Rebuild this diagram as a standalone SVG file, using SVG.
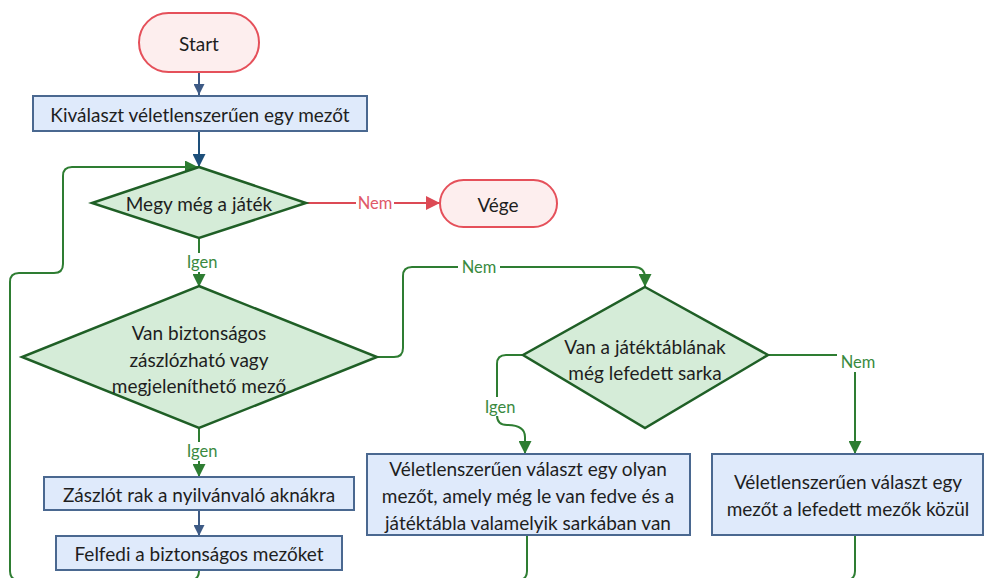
<svg xmlns="http://www.w3.org/2000/svg" width="987" height="578" viewBox="0 0 987 578">
  <defs>
    <marker id="ah-blue" viewBox="0 0 10 10" refX="10" refY="5" markerWidth="11" markerHeight="11" markerUnits="userSpaceOnUse" orient="auto">
      <path d="M0,0 L10,5 L0,10 Z" fill="#3d5a85"/>
    </marker>
    <marker id="ah-navy" viewBox="0 0 10 10" refX="10" refY="5" markerWidth="13" markerHeight="13" markerUnits="userSpaceOnUse" orient="auto">
      <path d="M0,0 L10,5 L0,10 Z" fill="#1d4f7a"/>
    </marker>
    <marker id="ah-green" viewBox="0 0 10 10" refX="10" refY="5" markerWidth="13" markerHeight="13" markerUnits="userSpaceOnUse" orient="auto">
      <path d="M0,0 L10,5 L0,10 Z" fill="#2e7d32"/>
    </marker>
    <marker id="ah-red" viewBox="0 0 10 10" refX="10" refY="5" markerWidth="14" markerHeight="14" markerUnits="userSpaceOnUse" orient="auto">
      <path d="M0,0 L10,5 L0,10 Z" fill="#dc4a55"/>
    </marker>
  </defs>
  <style>
    text { font-family: Lato, "Open Sans", "Liberation Sans", sans-serif; fill: #1e1e1e; }
    .node-txt { font-size: 19px; text-anchor: middle; dominant-baseline: central; }
    .term { fill: #fdeeee; stroke: #e5505a; stroke-width: 2; }
    .proc { fill: #dfeafb; stroke: #4a6890; stroke-width: 2; }
    .dec { fill: #d5ecd8; stroke: #1f5f26; stroke-width: 2.5; }
    .c-green { fill: none; stroke: #2e7d32; stroke-width: 2; }
    .c-blue { fill: none; stroke: #3d5a85; stroke-width: 2; }
    .c-navy { fill: none; stroke: #1d4f7a; stroke-width: 2; }
    .c-red { fill: none; stroke: #dc4a55; stroke-width: 2; }
    .lbl { font-size: 16.5px; text-anchor: middle; dominant-baseline: central; }
    .lbl-g { fill: #3a8a3f; }
    .lbl-r { fill: #e05868; }
    .lbl-bg { fill: #ffffff; }
  </style>

  <!-- connectors -->
  <g id="connectors">
    <path class="c-blue" d="M199,72 L199,95" marker-end="url(#ah-blue)"/>
    <path class="c-navy" d="M199,131 L199,167" marker-end="url(#ah-navy)"/>
    <!-- loop back along the bottom to the game check -->
    <path class="c-green" d="M855,535 L855,571 Q855,580 846,580 L19,580 Q10,580 10,571 L10,282 Q10,273 19,273 L54,273 Q63,273 63,264 L63,176 Q63,167 72,167 L198,167" marker-end="url(#ah-green)"/>
    <path class="c-green" d="M527,535 L527,571 Q527,580 518,580"/>
    <path class="c-green" d="M199,570 L199,571 Q199,580 190,580"/>
    <!-- game over -->
    <path class="c-red" d="M306,203 L440,203" marker-end="url(#ah-red)"/>
    <rect class="lbl-bg" x="356" y="194" width="38" height="18"/>
    <text class="lbl lbl-r" x="375" y="203">Nem</text>
    <!-- yes: still playing -->
    <path class="c-green" d="M199,238 L199,287" marker-end="url(#ah-green)"/>
    <rect class="lbl-bg" x="181" y="253" width="42" height="19"/>
    <text class="lbl lbl-g" x="202" y="262">Igen</text>
    <!-- yes: safe moves -->
    <path class="c-green" d="M199,428 L199,477" marker-end="url(#ah-green)"/>
    <rect class="lbl-bg" x="181" y="442" width="42" height="19"/>
    <text class="lbl lbl-g" x="202" y="451">Igen</text>
    <path class="c-blue" d="M199,510 L199,536" marker-end="url(#ah-blue)"/>
    <!-- no safe moves: check corners -->
    <path class="c-green" d="M377,357 L394,357 Q403,357 403,348 L403,276 Q403,267 412,267 L634,267 Q645,267 645,278 L645,287" marker-end="url(#ah-green)"/>
    <rect class="lbl-bg" x="458" y="258" width="42" height="18"/>
    <text class="lbl lbl-g" x="479" y="267">Nem</text>
    <!-- corner available -->
    <path class="c-green" d="M523,355 L506,355 Q497,355 497,364 L497,415 Q497,425 507,425 Q525,425 525,437 L525,454" marker-end="url(#ah-green)"/>
    <rect class="lbl-bg" x="479" y="397" width="42" height="19"/>
    <text class="lbl lbl-g" x="500" y="407">Igen</text>
    <!-- no corner -->
    <path class="c-green" d="M768,355 L846,355 Q855,355 855,364 L855,454" marker-end="url(#ah-green)"/>
    <rect class="lbl-bg" x="837" y="353" width="42" height="19"/>
    <text class="lbl lbl-g" x="858" y="362">Nem</text>
  </g>

  <g id="start">
    <rect class="term" x="139" y="13" width="120" height="59" rx="29.5"/>
    <text class="node-txt" x="199" y="43">Start</text>
  </g>

  <g id="pick-random">
    <rect class="proc" x="33" y="96" width="334" height="35"/>
    <text class="node-txt" x="200" y="114">Kiválaszt véletlenszerűen egy mezőt</text>
  </g>

  <g id="game-running">
    <polygon class="dec" points="199,167 306,203 199,238 92,203"/>
    <text class="node-txt" x="199" y="203">Megy még a játék</text>
  </g>

  <g id="end">
    <rect class="term" x="440" y="180" width="117" height="47" rx="23.5"/>
    <text class="node-txt" x="498" y="204">Vége</text>
  </g>

  <g id="safe-move">
    <polygon class="dec" points="199,286 377,357 199,428 22,357"/>
    <text class="node-txt" x="199" y="332">Van biztonságos</text>
    <text class="node-txt" x="199" y="359">zászlózható vagy</text>
    <text class="node-txt" x="199" y="385">megjeleníthető mező</text>
  </g>

  <g id="flag-mines">
    <rect class="proc" x="44" y="477" width="310" height="33"/>
    <text class="node-txt" x="199" y="494">Zászlót rak a nyilvánvaló aknákra</text>
  </g>

  <g id="reveal-safe">
    <rect class="proc" x="56" y="536" width="286" height="34"/>
    <text class="node-txt" x="199" y="553">Felfedi a biztonságos mezőket</text>
  </g>

  <g id="corner-check">
    <polygon class="dec" points="645,287 768,355 645,428 523,355"/>
    <text class="node-txt" x="645" y="346">Van a játéktáblának</text>
    <text class="node-txt" x="645" y="372">még lefedett sarka</text>
  </g>

  <g id="pick-corner">
    <rect class="proc" x="367" y="454" width="323" height="81"/>
    <text class="node-txt" x="528" y="468">Véletlenszerűen választ egy olyan</text>
    <text class="node-txt" x="528" y="495">mezőt, amely még le van fedve és a</text>
    <text class="node-txt" x="528" y="522">játéktábla valamelyik sarkában van</text>
  </g>

  <g id="pick-covered">
    <rect class="proc" x="712" y="454" width="271" height="81"/>
    <text class="node-txt" x="848" y="481">Véletlenszerűen választ egy</text>
    <text class="node-txt" x="848" y="508">mezőt a lefedett mezők közül</text>
  </g>
</svg>
